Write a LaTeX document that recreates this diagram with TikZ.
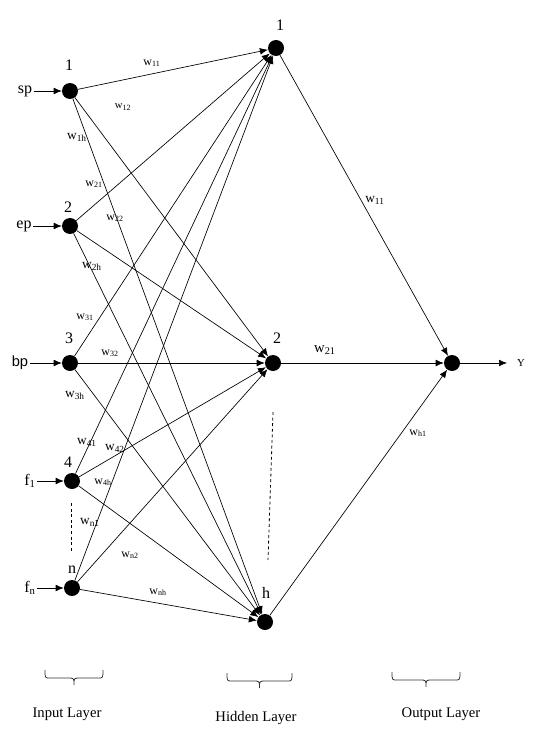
\documentclass[tikz,border=0pt]{standalone}
\usepackage{fontspec}
\setmainfont{Liberation Serif}
\newfontfamily\arialfont{Liberation Sans}
\usepackage{tikz}
\usetikzlibrary{positioning,calc}
\usetikzlibrary{arrows.meta}

\begin{document}
\begin{tikzpicture}[x=0.75pt,y=-0.75pt,
    neuron/.style={circle,fill=black,inner sep=0pt,minimum size=12pt},
    num/.style={font=\fontsize{12}{14}\selectfont,inner sep=1pt},
    wt/.style={font=\fontsize{9}{10}\selectfont,inner sep=0pt},
    wtb/.style={font=\fontsize{10}{11}\selectfont,inner sep=0pt},
    conn/.style={draw,-{Latex[length=6pt,width=5pt]},line width=0.5pt},
    layerbrace/.style={draw,line width=0.6pt,black!80},
    dots/.style={draw,line width=0.6pt,dash pattern=on 2.2pt off 2pt}]
    \useasboundingbox (0,0) rectangle (534,738);
    % input layer
    \node[neuron] (I1) at (70,91) {};
    \node[neuron] (I2) at (70,226) {};
    \node[neuron] (I3) at (70,363) {};
    \node[neuron] (I4) at (72,481) {};
    \node[neuron] (In) at (72,588) {};
    \node[num] at (69,65) {1};
    \node[num] at (68,207) {2};
    \node[num] at (69,338) {3};
    \node[num] at (68,462) {4};
    \node[num] at (72,570) {n};
    \node[num] (sp) at (25,91) {sp};
    \node[num] (ep) at (24,226) {ep};
    \node[num,font=\arialfont\fontsize{11}{13}\selectfont] (bp) at (20,363) {bp};
    \node[num] (f1) at (30,481) {f\textsubscript{1}};
    \node[num] (fn) at (30,588) {f\textsubscript{n}};
    \foreach \src/\dst in {sp/I1,ep/I2,bp/I3,f1/I4,fn/In}
        \draw[conn] (\src.east) -- (\dst);
    \coordinate (d1) at (71,503);
    \coordinate (d2) at (71,552);
    \draw[dots] (d1) -- (d2);
    % hidden layer
    \node[neuron] (H1) at (276,48) {};
    \node[neuron] (H2) at (273,363) {};
    \node[neuron] (Hh) at (265,622) {};
    \node[num] at (280,25) {1};
    \node[num] at (277,338) {2};
    \node[num] at (266,593) {h};
    \coordinate (d3) at (273,412);
    \coordinate (d4) at (268,560);
    \draw[dots] (d3) -- (d4);
    \foreach \i in {I1,I2,I3,I4,In}
        \foreach \j in {H1,H2,Hh}
            \draw[conn] (\i) -- (\j);
    % output layer
    \node[neuron] (O) at (452,363) {};
    \coordinate (Yend) at (507,363);
    \node[wt,font=\fontsize{8}{9}\selectfont] (Y) at (521,363) {Y};
    \foreach \j in {H1,H2,Hh}
        \draw[conn] (\j) -- (O);
    \draw[conn] (O) -- (Yend);
    % weights
    \foreach \lab/\x/\y in {11/152/63,21/94/184,22/115/218,31/85/317,32/110/353,
                            4h/103/482,n2/130/555,nh/158/592}
        \node[wt] (w\lab) at (\x,\y) {w\textsubscript{\lab}};
    \foreach \lab/\x/\y in {1h/77/137,2h/92/266,3h/75/395,41/87/442,42/115/448,n1/90/522}
        \node[wtb] (w\lab) at (\x,\y) {w\textsubscript{\lab}};
    \node[wt,font=\fontsize{8}{9}\selectfont] (w12) at (123,107) {w\textsubscript{12}};
    \node[wtb] (v11) at (375,200) {w\textsubscript{11}};
    \node[wtb,font=\fontsize{11}{12}\selectfont] (v21) at (325,350) {w\textsubscript{21}};
    \node[wt] (vh1) at (418,433) {w\textsubscript{h1}};
    % layer braces
    \foreach \l/\r/\y in {45/103/670,227/292/673,392/460/672}{
        \pgfmathsetmacro\m{(\l+\r)/2}
        \draw[layerbrace] (\l,\y) .. controls (\l,\y+8) .. (\l+5,\y+8)
            -- (\m-6,\y+8) .. controls (\m,\y+8) .. (\m,\y+15)
            .. controls (\m,\y+8) .. (\m+6,\y+8)
            -- (\r-5,\y+8) .. controls (\r,\y+8) .. (\r,\y);
    }
    \node[font=\fontsize{11}{13}\selectfont] (inl) at (67,714) {Input Layer};
    \node[font=\fontsize{11}{13}\selectfont] (hidl) at (256,718) {Hidden Layer};
    \node[font=\fontsize{11}{13}\selectfont] (outl) at (441,714) {Output Layer};
\end{tikzpicture}
\end{document}
